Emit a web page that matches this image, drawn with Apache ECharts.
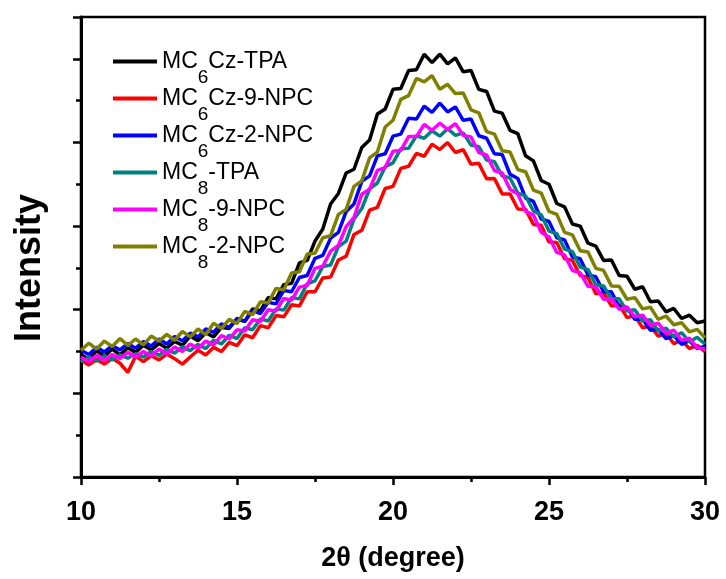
<!DOCTYPE html>
<html>
<head>
<meta charset="utf-8">
<script src="https://cdn.jsdelivr.net/npm/echarts@6/dist/echarts.min.js"></script>
<style>
  html, body { margin: 0; padding: 0; background: #fff; }
  #main { width: 726px; height: 579px; }
</style>
</head>
<body>
<div id="main"></div>
<script>
// 2theta sampling points (degree)
var angles = [10,10.25,10.5,10.75,11,11.25,11.5,11.75,12,12.25,12.5,12.75,13,13.25,13.5,13.75,
  14,14.25,14.5,14.75,15,15.25,15.5,15.75,16,16.25,16.5,16.75,17,17.25,17.5,17.75,
  18,18.25,18.5,18.75,19,19.25,19.5,19.75,20,20.25,20.5,20.75,21,21.25,21.5,21.75,
  22,22.25,22.5,22.75,23,23.25,23.5,23.75,24,24.25,24.5,24.75,25,25.25,25.5,25.75,
  26,26.25,26.5,26.75,27,27.25,27.5,27.75,28,28.25,28.5,28.75,29,29.25,29.5,29.75,30];

var names = ['MC6Cz-TPA', 'MC6Cz-9-NPC', 'MC6Cz-2-NPC', 'MC8-TPA', 'MC8-9-NPC', 'MC8-2-NPC'];
var colors = ['#000000', '#ff0000', '#0000ff', '#008080', '#ff00ff', '#808000'];

var mc6czTpa = [293,281,302,289,306,292,309,298,315,304,
  319,308,324,315,337,326,345,335,358,355,
  379,372,402,397,429,426,460,463,512,518,
  564,593,653,678,727,736,788,806,868,880,
  927,929,972,974,1011,991,1011,988,1002,969,
  972,927,922,875,870,829,821,768,756,709,
  700,654,646,605,600,559,552,518,519,482,
  480,449,455,419,421,395,403,379,387,369,373];

var mc6cz9Npc = [279,268,281,270,284,272,250,289,276,290,
  280,294,283,270,287,303,292,310,300,322,
  314,340,333,362,357,386,383,412,409,443,
  443,476,478,519,528,580,590,638,645,690,
  695,738,743,774,767,796,783,800,776,783,
  748,750,713,714,677,677,641,640,604,602,
  562,561,522,518,482,477,438,441,409,412,
  381,386,357,361,337,343,319,327,307,315,300];

var mc6cz2Npc = [303,293,310,299,314,304,319,308,324,313,
  330,318,336,325,344,335,354,346,366,358,
  378,372,398,391,418,414,446,443,477,482,
  523,530,571,585,635,653,707,720,768,773,
  815,820,858,856,887,872,894,873,885,853,
  856,816,810,773,771,724,714,667,659,617,
  611,572,567,526,522,483,479,443,443,407,
  406,377,377,351,353,331,338,317,326,307,313];

var mc8Tpa = [275,287,277,290,280,292,284,295,287,300,
  291,305,296,311,302,317,307,327,318,339,
  331,357,352,378,373,402,399,429,426,462,
  469,503,507,551,564,617,642,689,703,742,
  751,785,786,816,810,828,815,833,817,823,
  794,790,758,754,720,715,679,672,636,627,
  588,582,545,539,502,496,459,457,426,426,
  397,400,373,376,349,356,335,345,323,334,318];

var mc89Npc = [286,276,291,279,293,283,298,287,300,290,
  306,294,311,300,318,307,325,316,338,330,
  352,349,376,372,400,397,427,423,454,458,
  499,504,540,554,599,621,676,688,733,740,
  779,781,814,814,843,829,846,831,845,817,
  813,776,770,733,727,688,677,635,627,585,
  574,537,531,494,488,456,455,425,426,401,
  406,383,387,363,368,344,351,327,332,309,306];

var mc82Npc = [303,320,306,325,312,331,315,330,316,337,
  325,341,327,348,335,354,340,368,355,377,
  367,396,388,419,416,451,448,488,491,533,
  535,572,577,628,640,695,708,763,777,837,
  853,903,912,953,945,960,927,939,917,918,
  878,871,826,820,780,777,735,730,686,679,
  635,628,585,579,541,538,499,494,457,456,
  425,429,402,406,377,385,364,369,347,353,333];

var allValues = [mc6czTpa, mc6cz9Npc, mc6cz2Npc, mc8Tpa, mc89Npc, mc82Npc];

window.onload = function () {
  var myChart = echarts.init(document.getElementById('main'));

  var series = names.map(function (name, i) {
    return {
      name: name,
      type: 'line',
      showSymbol: false,
      color: colors[i],
      lineStyle: { width: 3.5, color: colors[i] },
      data: angles.map(function (a, k) { return [a, allValues[i][k]]; })
    };
  });

  var boldFont = '"Liberation Sans", Arial, sans-serif';

  var option = {
    animation: false,
    backgroundColor: '#fff',
    grid: {
      left: 81, right: 21, top: 17, bottom: 102,
      show: true, borderColor: '#000', borderWidth: 2.5
    },
    legend: {
      orient: 'vertical',
      left: 113,
      top: 36,
      padding: 0,
      itemGap: -14,
      itemWidth: 44,
      itemHeight: 4,
      icon: 'rect',
      data: names,
      formatter: function (name) {
        var m = name.match(/^(MC)(\d)(.*)$/);
        return '{a|MC}{s|' + m[2] + '}{a|' + m[3] + '}';
      },
      textStyle: {
        rich: {
          a: { fontSize: 23, lineHeight: 24, color: '#000', fontFamily: boldFont },
          s: { fontSize: 19, lineHeight: 24, color: '#000', fontFamily: boldFont, padding: [32, 0, 0, 0] }
        }
      }
    },
    xAxis: {
      type: 'value',
      min: 10, max: 30, interval: 5,
      name: '2θ (degree)',
      nameLocation: 'middle',
      nameGap: 68,
      nameTextStyle: { color: '#000', fontSize: 27, fontWeight: 'bold', fontFamily: boldFont },
      axisLine: { lineStyle: { color: '#000', width: 3 } },
      axisTick: { length: 8, lineStyle: { color: '#000', width: 2.5 } },
      minorTick: { show: true, splitNumber: 2, length: 5, lineStyle: { color: '#000', width: 2.5 } },
      axisLabel: { color: '#000', fontSize: 27, fontWeight: 'bold', fontFamily: boldFont, margin: 22 },
      splitLine: { show: false }
    },
    yAxis: [{
      type: 'value',
      min: 0, max: 1100, interval: 200,
      axisLine: { show: true, lineStyle: { color: '#000', width: 3 } },
      axisTick: { show: true, length: 8, lineStyle: { color: '#000', width: 2.5 } },
      axisLabel: { show: false },
      splitLine: { show: false }
    }, {
      type: 'value',
      position: 'left',
      min: 0, max: 1100, interval: 100,
      axisLine: { show: false },
      axisTick: { show: true, length: 5, lineStyle: { color: '#000', width: 2.5 } },
      axisLabel: { show: false },
      splitLine: { show: false }
    }],
    graphic: [{
      type: 'text',
      x: 30, y: 268,
      rotation: Math.PI / 2,
      style: {
        text: 'Intensity',
        font: 'bold 36px "Liberation Sans", Arial, sans-serif',
        fill: '#000',
        align: 'center',
        verticalAlign: 'middle'
      }
    }],
    series: series
  };

  option && myChart.setOption(option);
};
</script>
</body>
</html>
